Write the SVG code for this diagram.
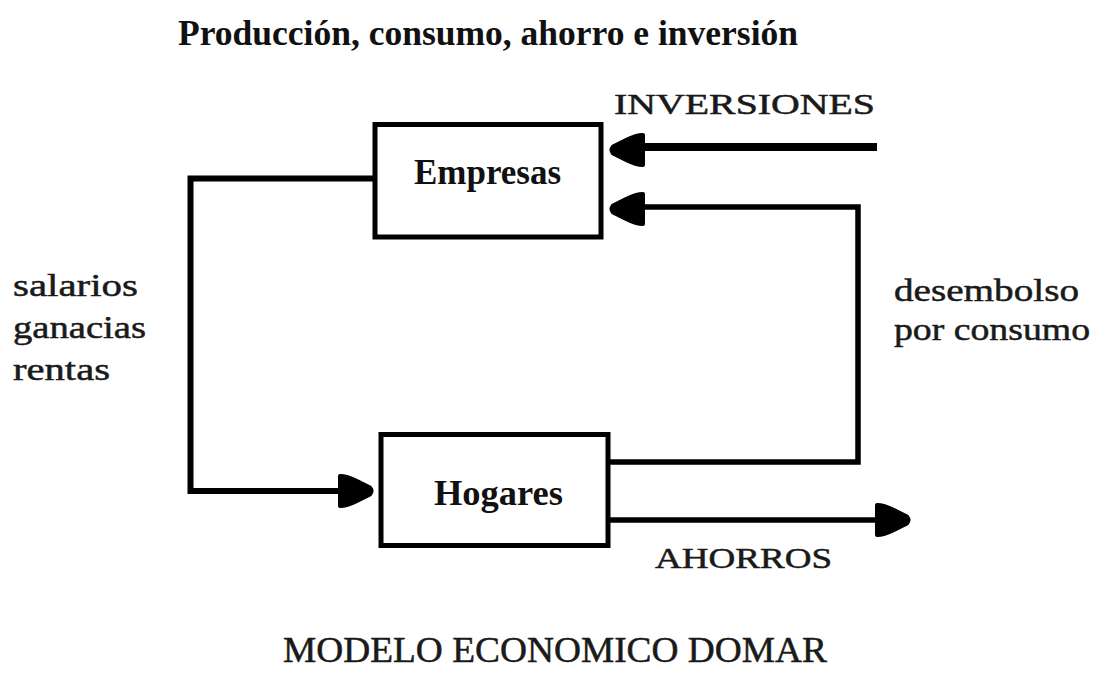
<svg xmlns="http://www.w3.org/2000/svg" xmlns:xlink="http://www.w3.org/1999/xlink" width="1101" height="677" viewBox="0 0 1101 677">
<style>
.box{fill:#fff;stroke:#000;stroke-width:5}
.bold{font-family:'Liberation Serif','Times New Roman',serif;font-weight:bold;fill:#111}
.reg{font-family:'Liberation Serif','Times New Roman',serif;fill:#1a1a1a;stroke:#1a1a1a;stroke-width:0.5}
.ln{fill:none;stroke:#000;stroke-linejoin:miter;stroke-linecap:butt}
.ah{fill:#000;stroke:#000;stroke-width:4;stroke-linejoin:round}
</style>
<defs>
<path id="ah" d="M-35,-15 L-35,15 Q-28,15 -18,10 L-5,3.5 Q-2,0 -5,-3.5 L-18,-10 Q-28,-15 -35,-15 Z"/>
</defs>
<rect width="1101" height="677" fill="#fff"/>
<text class="bold" x="178" y="45" font-size="35" textLength="620" lengthAdjust="spacingAndGlyphs">Producción, consumo, ahorro e inversión</text>
<g id="connectors">
<path class="ln" stroke-width="6" d="M375,178.5 H190.5 V491 H340"/>
<use xlink:href="#ah" class="ah" transform="translate(375,491)"/>
<path class="ln" stroke-width="8" d="M877,147 H640"/>
<use xlink:href="#ah" class="ah" transform="translate(608,150) scale(-1,1)"/>
<path class="ln" stroke-width="5.5" d="M608,462 H858 V207 H640"/>
<use xlink:href="#ah" class="ah" transform="translate(608,209) scale(-1,1)"/>
<path class="ln" stroke-width="5.5" d="M608,520 H876"/>
<use xlink:href="#ah" class="ah" transform="translate(912,520)"/>
</g>
<g id="empresas">
<rect class="box" x="375" y="124.5" width="226" height="112.5"/>
<text class="bold" x="414" y="184" font-size="35" textLength="147" lengthAdjust="spacingAndGlyphs">Empresas</text>
</g>
<g id="hogares">
<rect class="box" x="381" y="434.5" width="227" height="111"/>
<text class="bold" x="434" y="505" font-size="36" textLength="129" lengthAdjust="spacingAndGlyphs">Hogares</text>
</g>
<g id="labels">
<text class="reg" x="614" y="114" font-size="29" textLength="261" lengthAdjust="spacingAndGlyphs">INVERSIONES</text>
<text class="reg" x="894" y="301" font-size="32" textLength="185" lengthAdjust="spacingAndGlyphs">desembolso</text>
<text class="reg" x="894" y="340" font-size="32" textLength="196" lengthAdjust="spacingAndGlyphs">por consumo</text>
<text class="reg" x="13" y="296" font-size="32" textLength="125" lengthAdjust="spacingAndGlyphs">salarios</text>
<text class="reg" x="13" y="338" font-size="32" textLength="133" lengthAdjust="spacingAndGlyphs">ganacias</text>
<text class="reg" x="13" y="380" font-size="32" textLength="97" lengthAdjust="spacingAndGlyphs">rentas</text>
<text class="reg" x="655" y="568" font-size="29" textLength="177" lengthAdjust="spacingAndGlyphs">AHORROS</text>
<text class="reg" x="283" y="662" font-size="35" textLength="544" lengthAdjust="spacingAndGlyphs">MODELO ECONOMICO DOMAR</text>
</g>
</svg>
